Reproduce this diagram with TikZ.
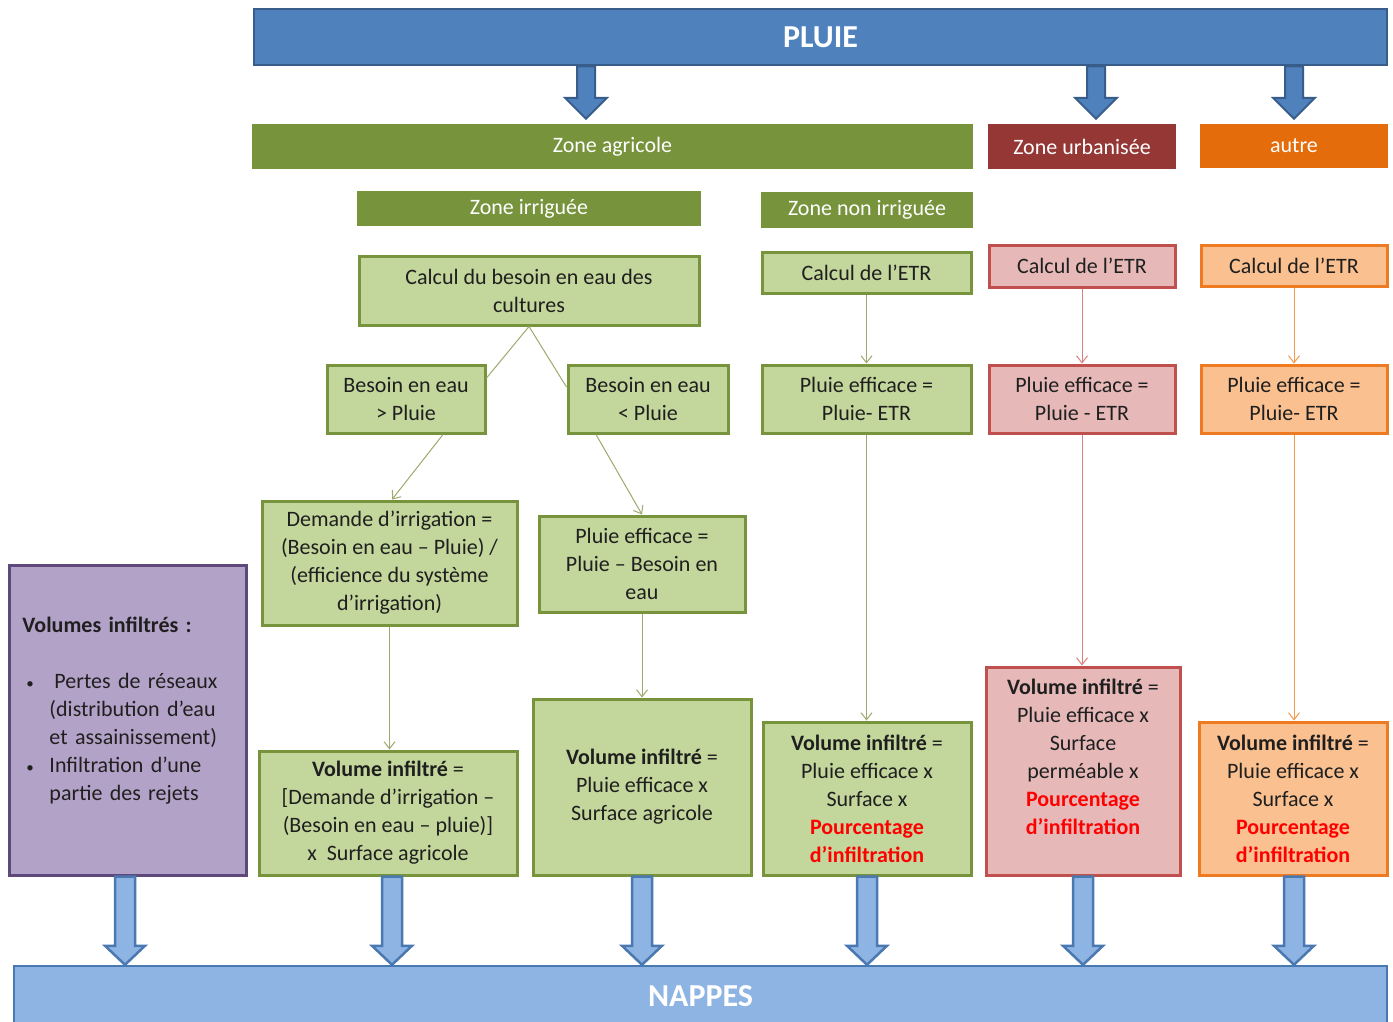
\documentclass[tikz,border=0pt]{standalone}
\usepackage{fontspec}
\setmainfont{Carlito}
\usetikzlibrary{arrows.meta,calc}
\definecolor{txt}{HTML}{1F1F1F}
\definecolor{blueA}{HTML}{4F81BD}
\definecolor{blueB}{HTML}{385D8A}
\definecolor{blueL}{HTML}{8EB4E3}
\definecolor{blueLB}{HTML}{4A78B0}
\definecolor{agri}{HTML}{77933C}
\definecolor{urb}{HTML}{953735}
\definecolor{aut}{HTML}{E46C0A}
\definecolor{lgfill}{HTML}{C3D69B}
\definecolor{lgline}{HTML}{77933C}
\definecolor{lrfill}{HTML}{E6B9B8}
\definecolor{lrline}{HTML}{C0504D}
\definecolor{lofill}{HTML}{FAC090}
\definecolor{loline}{HTML}{EE7B22}
\definecolor{purfill}{HTML}{B3A2C7}
\definecolor{purline}{HTML}{5F497A}
\definecolor{cg}{HTML}{9DAA6E}
\definecolor{cr}{HTML}{D9827F}
\definecolor{co}{HTML}{F59A4A}
\definecolor{redtxt}{HTML}{FF0000}
\tikzset{
  base/.style={font=\fontsize{22}{28}\selectfont, align=center, inner sep=0pt, text=txt},
  hdr/.style={base, fill=#1, text=white},
  lgbox/.style={base, fill=lgfill, draw=lgline, line width=3pt},
  lrbox/.style={base, fill=lrfill, draw=lrline, line width=3pt},
  lobox/.style={base, fill=lofill, draw=loline, line width=3pt},
  purbox/.style={base, fill=purfill, draw=purline, line width=3pt},
  conn/.style={line width=1pt, draw=#1, -{Straight Barb[length=7pt,width=11pt]}},
  plain/.style={line width=1pt, draw=#1},
  toparr/.style={fill=blueA, draw=blueB, line width=2pt, line join=miter},
  botarr/.style={fill=blueL, draw=blueLB, line width=2.5pt, line join=miter},
}
\newcommand\redb[1]{\textcolor{redtxt}{\textbf{#1}}}
\newcommand\smbul{{\fontsize{15}{28}\selectfont •}}
% block arrow: style, x, from node, to node, shaft half, head half, head length, gap at tip
\newcommand\barr[8]{%
  \draw[#1] let \p1=(#3.south), \p2=(#4.north) in
  (#2pt-#5pt,\y1) -- (#2pt-#5pt,\y2+#8pt+#7pt) -- (#2pt-#6pt,\y2+#8pt+#7pt) -- (#2pt,\y2+#8pt)
  -- (#2pt+#6pt,\y2+#8pt+#7pt) -- (#2pt+#5pt,\y2+#8pt+#7pt) -- (#2pt+#5pt,\y1) -- cycle;}
\begin{document}
\begin{tikzpicture}[x=1pt,y=-1pt]
\useasboundingbox (0,0) rectangle (1393,1021);
\fill[white] (0,0) rectangle (1393,1021);

% top
\node[hdr=blueA, draw=blueB, line width=2.5pt, minimum width=1133pt, minimum height=56pt,
      font=\bfseries\fontsize{32}{36}\selectfont] (pluie) at (820.5,37) {PLUIE};

% zone headers
\node[hdr=agri, minimum width=721pt, minimum height=45pt] (agri) at (612.5,146.5) {Zone agricole};
\node[hdr=urb, minimum width=188pt, minimum height=45pt] (urb) at (1082,146.5) {Zone urbanisée};
\node[hdr=aut, minimum width=188pt, minimum height=44pt] (aut) at (1294,146) {autre};
\node[hdr=agri, minimum width=344pt, minimum height=35pt] (irr) at (529,208.5) {Zone irriguée};
\node[hdr=agri, minimum width=212pt, minimum height=36pt] (nonirr) at (867,210) {Zone non irriguée};

% irrigated column
\node[lgbox, minimum width=340pt, minimum height=69pt] (calcB) at (529,290.5) {Calcul du besoin en eau des\\cultures};
\node[lgbox, minimum width=158pt, minimum height=68pt] (bsup) at (406,399) {Besoin en eau\\> Pluie};
\node[lgbox, minimum width=160pt, minimum height=68pt] (binf) at (648,399) {Besoin en eau\\< Pluie};
\node[lgbox, minimum width=255pt, minimum height=124pt] (dem) at (389.5,563) {Demande d’irrigation =\\(Besoin en eau – Pluie) /\\(efficience du système\\d’irrigation)};
\node[lgbox, minimum width=206pt, minimum height=96pt] (pe1) at (642,564) {Pluie efficace =\\Pluie – Besoin en\\eau};
\node[lgbox, minimum width=258pt, minimum height=124pt] (v1) at (388,813) {\textbf{Volume infiltré} =\\{[}Demande d’irrigation –\\(Besoin en eau – pluie)]\\x\ \ Surface agricole};
\node[lgbox, minimum width=218pt, minimum height=176pt] (v2) at (642,787) {\textbf{Volume infiltré} =\\Pluie efficace x\\Surface agricole};

% non irrigated column
\node[lgbox, minimum width=209pt, minimum height=41pt] (etr1) at (866.5,272.5) {Calcul de l’ETR};
\node[lgbox, minimum width=209pt, minimum height=68pt] (pe2) at (866.5,399) {Pluie efficace =\\Pluie- ETR};
\node[lgbox, minimum width=208pt, minimum height=153pt] (v3) at (867,798.5) {\textbf{Volume infiltré} =\\Pluie efficace x\\Surface x\\\redb{Pourcentage}\\\redb{d’infiltration}};

% urban column
\node[lrbox, minimum width=186pt, minimum height=42pt] (etr2) at (1082,266) {Calcul de l’ETR};
\node[lrbox, minimum width=186pt, minimum height=68pt] (pe3) at (1082,399) {Pluie efficace =\\Pluie - ETR};
\node[lrbox, minimum width=194pt, minimum height=208pt] (v4) at (1083,771) {\textbf{Volume infiltré} =\\Pluie efficace x\\Surface\\perméable x\\\redb{Pourcentage}\\\redb{d’infiltration}\\\mbox{}};

% other column
\node[lobox, minimum width=186pt, minimum height=41pt] (etr3) at (1294,265.5) {Calcul de l’ETR};
\node[lobox, minimum width=186pt, minimum height=68pt] (pe4) at (1294,399) {Pluie efficace =\\Pluie- ETR};
\node[lobox, minimum width=188pt, minimum height=153pt] (v5) at (1293,798.5) {\textbf{Volume infiltré} =\\Pluie efficace x\\Surface x\\\redb{Pourcentage}\\\redb{d’infiltration}};

% purple box
\node[purbox, minimum width=237pt, minimum height=310pt, align=left, text width=210pt] (vol) at (127.5,720)
 {\textbf{Volumes infiltrés :}\\
  \mbox{}\\
  \hspace*{4pt}\makebox[28pt][l]{\smbul}Pertes de réseaux\\
  \hspace*{27pt}(distribution d’eau\\
  \hspace*{27pt}et assainissement)\\
  \hspace*{4pt}\makebox[23pt][l]{\smbul}Infiltration d’une\\
  \hspace*{27pt}partie des rejets\\[-6pt]
  \mbox{}};

% bottom
\node[hdr=blueL, draw=blueLB, line width=2.5pt, minimum width=1373pt, minimum height=60pt,
      font=\bfseries\fontsize{32}{36}\selectfont] (nappes) at (700.5,996) {NAPPES};

% thin connectors
\draw[plain=cg] (calcB.south) -- ($(bsup.east)+(0,-21)$);
\draw[plain=cg] (calcB.south) -- ($(binf.west)+(0,-12)$);
\draw[conn=cg] ($(bsup.south)+(37,0)$) -- ($(dem.north)+(2.5,0)$);
\draw[conn=cg] ($(binf.south)+(-52,0)$) -- (pe1.north);
\draw[conn=cg] (dem.south) -- (dem.south |- v1.north);
\draw[conn=cg] (pe1.south) -- (v2.north);
\draw[conn=cg] (etr1.south) -- (pe2.north);
\draw[conn=cg] (pe2.south) -- (pe2.south |- v3.north);
\draw[conn=cr] (etr2.south) -- (pe3.north);
\draw[conn=cr] (pe3.south) -- (pe3.south |- v4.north);
\draw[conn=co] (etr3.south) -- (pe4.north);
\draw[conn=co] (pe4.south) -- (pe4.south |- v5.north);

% block arrows from PLUIE
\barr{toparr}{586}{pluie}{agri}{9}{21}{21}{5}
\barr{toparr}{1096}{pluie}{urb}{9}{21}{21}{5}
\barr{toparr}{1294}{pluie}{aut}{9}{21}{21}{5}

% block arrows to NAPPES
\barr{botarr}{125}{vol}{nappes}{10}{20}{19}{0}
\barr{botarr}{392}{v1}{nappes}{10}{20}{19}{0}
\barr{botarr}{642}{v2}{nappes}{10}{20}{19}{0}
\barr{botarr}{867}{v3}{nappes}{10}{20}{19}{0}
\barr{botarr}{1083}{v4}{nappes}{10}{20}{19}{0}
\barr{botarr}{1294}{v5}{nappes}{10}{20}{19}{0}
\end{tikzpicture}
\end{document}
